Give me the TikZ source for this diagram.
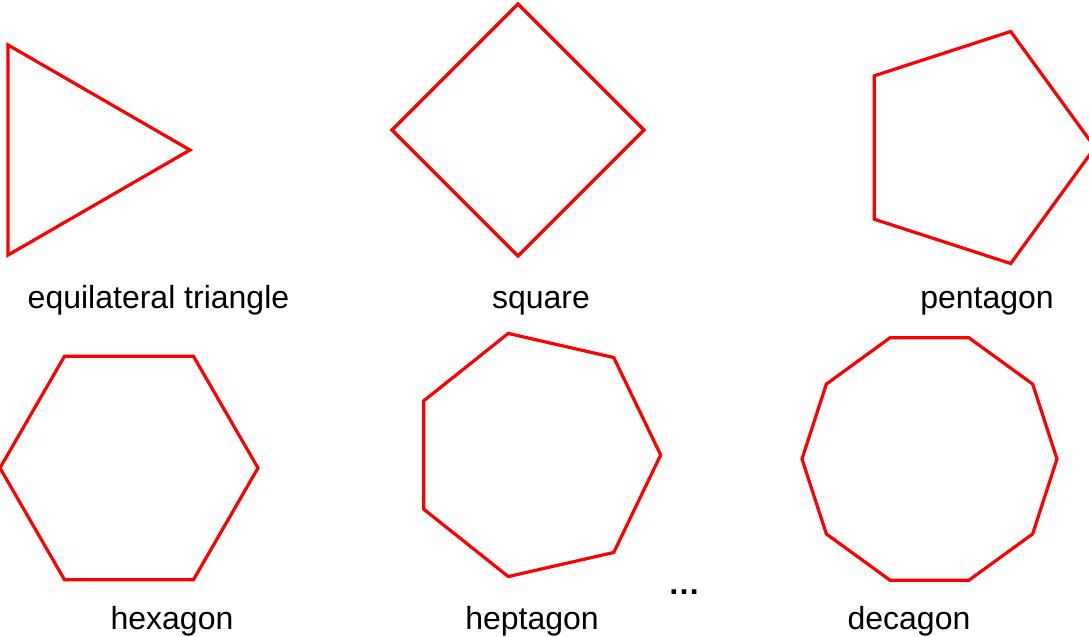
\documentclass[tikz,border=0pt]{standalone}
\usepackage{fontspec}
\setmainfont{Liberation Sans}
\usetikzlibrary{shapes.geometric}
\definecolor{polycolor}{RGB}{255,0,0}

\begin{document}
\begin{tikzpicture}[
    x=0.5pt, y=-0.5pt,
    poly/.style={regular polygon, draw=polycolor, line width=1.6pt, inner sep=0pt},
    caption/.style={font=\fontsize{16}{19}\selectfont, anchor=base},
]
    \useasboundingbox (0,0) rectangle (1089,637);

    % top row
    \node[poly, regular polygon sides=3, shape border rotate=-90, minimum size=121.3pt] (tri) at (68.7,150) {};
    \node[poly, regular polygon sides=4, shape border rotate=45, minimum size=126pt] (sq) at (518,130) {};
    \node[poly, regular polygon sides=5, shape border rotate=-90, minimum size=122pt] (pent) at (973,147.5) {};

    \node[caption] (tricap) at (158.5,308) {equilateral triangle};
    \node[caption] (sqcap) at (541,308) {square};
    \node[caption] (pentcap) at (987,308) {pentagon};

    % bottom row
    \node[poly, regular polygon sides=6, minimum size=129pt] (hex) at (129,468) {};
    \node[poly, regular polygon sides=7, shape border rotate=-90, minimum size=124.7pt] (hept) at (536,455) {};
    \node[poly, regular polygon sides=10, minimum size=127.5pt] (dec) at (929.5,459) {};

    \node[caption] (hexcap) at (172,629) {hexagon};
    \node[caption] (heptcap) at (532,629) {heptagon};
    \node[caption] (deccap) at (909,629) {decagon};
    \node[caption, font=\fontsize{16}{19}\selectfont\bfseries] (dots) at (684,594) {…};
\end{tikzpicture}
\end{document}
